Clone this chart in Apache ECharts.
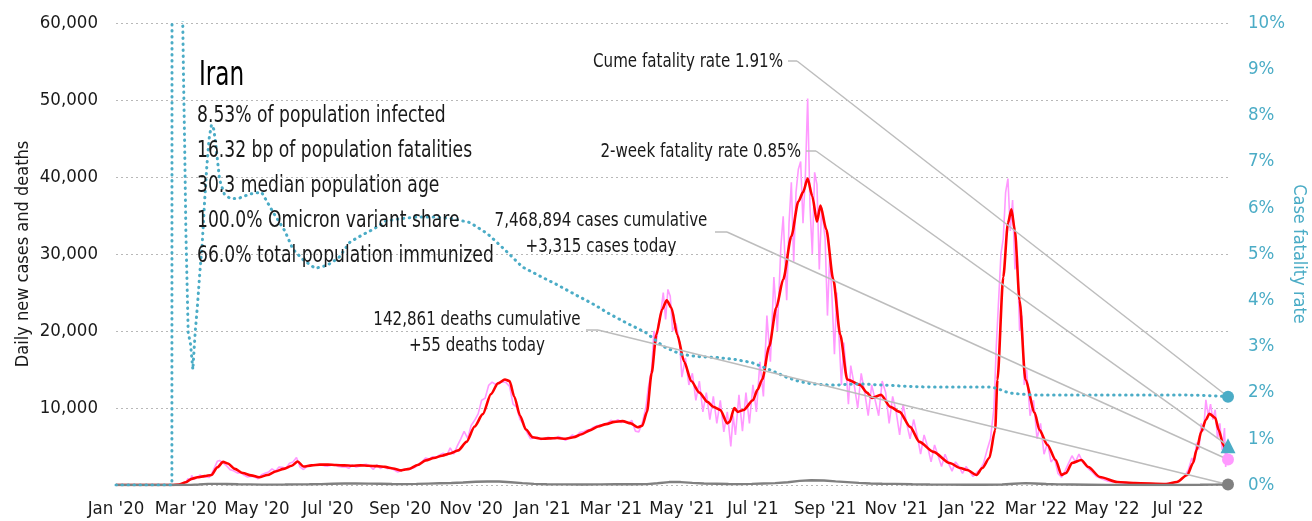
<!DOCTYPE html>
<html>
<head>
<meta charset="utf-8">
<script src="https://cdn.jsdelivr.net/npm/echarts@6/dist/echarts.min.js"></script>
<style>
  html, body { margin: 0; padding: 0; background: #ffffff; }
  #chart { width: 1312px; height: 521px; }
</style>
</head>
<body>
<div id="chart"></div>
<script>
// Iran COVID-19: daily cases, 7-day average, daily deaths and case fatality rate
const FONT = "'DejaVu Sans Condensed', 'DejaVu Sans', sans-serif";

const startDate = '2020-01-01';
const endDate = '2022-08-13';

const tickDates = ['2020-01-01','2020-03-01','2020-05-01','2020-07-01','2020-09-01','2020-11-01',
  '2021-01-01','2021-03-01','2021-05-01','2021-07-01','2021-09-01','2021-11-01',
  '2022-01-01','2022-03-01','2022-05-01','2022-07-01'];
const tickLabels = ["Jan '20","Mar '20","May '20","Jul '20","Sep '20","Nov '20",
  "Jan '21","Mar '21","May '21","Jul '21","Sep '21","Nov '21",
  "Jan '22","Mar '22","May '22","Jul '22"];

// 7-day average of new cases
const avgDates = ['2020-01-01','2020-02-18','2020-02-24','2020-03-01','2020-03-06','2020-03-11','2020-03-17','2020-03-23','2020-03-28','2020-04-02','2020-04-06','2020-04-12','2020-04-19','2020-04-26','2020-05-03','2020-05-10','2020-05-17','2020-05-24','2020-05-31','2020-06-05','2020-06-10','2020-06-17','2020-06-24','2020-07-01','2020-07-08','2020-07-15','2020-07-22','2020-07-29','2020-08-05','2020-08-12','2020-08-19','2020-08-26','2020-09-02','2020-09-09','2020-09-16','2020-09-23','2020-09-30','2020-10-07','2020-10-14','2020-10-21','2020-10-28','2020-11-04','2020-11-11','2020-11-18','2020-11-24','2020-11-30','2020-12-04','2020-12-08','2020-12-13','2020-12-18','2020-12-24','2020-12-31',
  '2021-01-07','2021-01-14','2021-01-21','2021-01-28','2021-02-04','2021-02-11','2021-02-18','2021-02-25','2021-03-04','2021-03-11','2021-03-18','2021-03-24','2021-03-28','2021-04-01','2021-04-05','2021-04-09','2021-04-14','2021-04-18','2021-04-22','2021-04-27','2021-05-03','2021-05-09','2021-05-16','2021-05-23','2021-05-28','2021-06-03','2021-06-09','2021-06-11','2021-06-15','2021-06-18','2021-06-23','2021-07-01','2021-07-05','2021-07-09','2021-07-15','2021-07-21','2021-07-27','2021-08-03','2021-08-09','2021-08-13','2021-08-17','2021-08-21','2021-08-25','2021-08-28','2021-09-02','2021-09-08','2021-09-14','2021-09-20','2021-10-01','2021-10-07','2021-10-11','2021-10-19','2021-10-27','2021-11-04','2021-11-13','2021-11-21','2021-12-03','2021-12-17','2021-12-26',
  '2022-01-01','2022-01-09','2022-01-14','2022-01-20','2022-01-25','2022-01-27','2022-02-01','2022-02-05','2022-02-08','2022-02-11','2022-02-15','2022-02-20','2022-02-28','2022-03-04','2022-03-11','2022-03-18','2022-03-23','2022-03-27','2022-04-01','2022-04-09','2022-04-15','2022-04-25','2022-05-10','2022-05-25','2022-06-21','2022-06-30','2022-07-09','2022-07-14','2022-07-17','2022-07-21','2022-07-25','2022-07-28','2022-08-02','2022-08-05','2022-08-09','2022-08-11','2022-08-13'];
const avgCases = [0,0,50,350,800,1000,1150,1300,2300,3000,2800,2100,1550,1250,1000,1300,1750,2100,2500,3050,2400,2550,2650,2650,2600,2550,2500,2550,2500,2450,2350,2150,1900,2100,2600,3200,3500,3800,4100,4500,5600,7600,9200,11800,13200,13700,13500,11500,9000,7200,6200,6000,
  6050,6100,6000,6200,6600,7100,7600,7900,8200,8300,8000,7500,7700,9500,14500,19500,22800,24000,23000,19500,16000,13500,12000,10800,10150,9750,8000,8200,10000,9500,9750,11000,12400,13700,18000,23000,26700,32300,36800,38000,39800,37500,34200,36300,33200,26700,19500,13700,13000,12000,11300,11700,10150,9500,7550,5600,4300,2860,2200,
  1950,1300,2200,3500,7160,13670,27000,34000,35800,33000,24000,13670,9375,7160,5200,3250,1300,1560,2860,3250,2340,1040,390,260,130,390,1300,2860,4560,6900,8460,9250,8720,7160,5200,4700,4950];

// Reported new cases
const dailyDates = ['2020-01-01','2020-02-18','2020-02-21','2020-02-24','2020-02-27','2020-03-01','2020-03-03','2020-03-05','2020-03-06','2020-03-08','2020-03-10','2020-03-13','2020-03-16','2020-03-19','2020-03-21','2020-03-23','2020-03-26','2020-03-28','2020-03-30','2020-04-02','2020-04-05','2020-04-08','2020-04-11','2020-04-14','2020-04-17','2020-04-20','2020-04-23','2020-04-26','2020-04-29','2020-05-02','2020-05-05','2020-05-08','2020-05-11','2020-05-14','2020-05-17','2020-05-20','2020-05-23','2020-05-26','2020-05-29','2020-06-01','2020-06-04','2020-06-07','2020-06-10','2020-06-13','2020-06-16','2020-06-19','2020-06-22','2020-06-25','2020-06-28','2020-07-01','2020-07-04','2020-07-07','2020-07-10','2020-07-13','2020-07-16','2020-07-19','2020-07-22','2020-07-25','2020-07-28','2020-07-31','2020-08-03','2020-08-06','2020-08-09','2020-08-12','2020-08-15','2020-08-18','2020-08-21','2020-08-24','2020-08-27','2020-08-30','2020-09-02','2020-09-05','2020-09-08','2020-09-11','2020-09-14','2020-09-17','2020-09-20','2020-09-23','2020-09-26','2020-09-29','2020-10-02','2020-10-05','2020-10-08','2020-10-11','2020-10-14','2020-10-17','2020-10-20','2020-10-23','2020-10-26','2020-10-29','2020-11-01','2020-11-04','2020-11-07','2020-11-10','2020-11-13','2020-11-16','2020-11-19','2020-11-22','2020-11-25','2020-11-28','2020-12-01','2020-12-04','2020-12-07','2020-12-10','2020-12-13','2020-12-16','2020-12-19','2020-12-22','2020-12-25','2020-12-28','2020-12-31',
  '2021-01-03','2021-01-06','2021-01-09','2021-01-12','2021-01-15','2021-01-18','2021-01-21','2021-01-24','2021-01-27','2021-01-30','2021-02-02','2021-02-05','2021-02-08','2021-02-11','2021-02-14','2021-02-17','2021-02-20','2021-02-23','2021-02-26','2021-03-01','2021-03-04','2021-03-07','2021-03-10','2021-03-13','2021-03-16','2021-03-19','2021-03-22','2021-03-25','2021-03-28','2021-03-31','2021-04-02','2021-04-05','2021-04-07','2021-04-09','2021-04-11','2021-04-13','2021-04-15','2021-04-17','2021-04-19','2021-04-21','2021-04-23','2021-04-26','2021-04-29','2021-05-01','2021-05-04','2021-05-07','2021-05-10','2021-05-13','2021-05-16','2021-05-19','2021-05-22','2021-05-25','2021-05-28','2021-05-31','2021-06-03','2021-06-06','2021-06-09','2021-06-12','2021-06-14','2021-06-16','2021-06-19','2021-06-22','2021-06-25','2021-06-28','2021-07-01','2021-07-04','2021-07-07','2021-07-10','2021-07-13','2021-07-16','2021-07-19','2021-07-22','2021-07-25','2021-07-27','2021-07-30','2021-08-01','2021-08-03','2021-08-05','2021-08-07','2021-08-09','2021-08-11','2021-08-13','2021-08-15','2021-08-17','2021-08-19','2021-08-21','2021-08-23','2021-08-25','2021-08-27','2021-08-29','2021-09-01','2021-09-03','2021-09-05','2021-09-07','2021-09-09','2021-09-11','2021-09-13','2021-09-15','2021-09-17','2021-09-19','2021-09-21','2021-09-23','2021-09-26','2021-09-29','2021-10-02','2021-10-05','2021-10-08','2021-10-11','2021-10-14','2021-10-17','2021-10-20','2021-10-23','2021-10-26','2021-10-29','2021-11-01','2021-11-04','2021-11-07','2021-11-10','2021-11-13','2021-11-16','2021-11-19','2021-11-22','2021-11-25','2021-11-28','2021-12-01','2021-12-04','2021-12-07','2021-12-10','2021-12-13','2021-12-16','2021-12-19','2021-12-22','2021-12-25','2021-12-28','2021-12-31',
  '2022-01-03','2022-01-06','2022-01-09','2022-01-12','2022-01-15','2022-01-18','2022-01-21','2022-01-24','2022-01-26','2022-01-28','2022-01-30','2022-02-01','2022-02-03','2022-02-05','2022-02-07','2022-02-09','2022-02-11','2022-02-13','2022-02-15','2022-02-17','2022-02-19','2022-02-21','2022-02-24','2022-02-27','2022-03-02','2022-03-05','2022-03-08','2022-03-11','2022-03-14','2022-03-17','2022-03-20','2022-03-23','2022-03-26','2022-03-29','2022-04-01','2022-04-04','2022-04-07','2022-04-10','2022-04-13','2022-04-16','2022-04-19','2022-04-22','2022-04-25','2022-04-28','2022-05-02','2022-05-06','2022-05-10','2022-05-15','2022-05-20','2022-05-30','2022-06-10','2022-06-20','2022-06-28','2022-07-03','2022-07-07','2022-07-10','2022-07-13','2022-07-15','2022-07-17','2022-07-19','2022-07-21','2022-07-23','2022-07-25','2022-07-27','2022-07-29','2022-07-31','2022-08-02','2022-08-04','2022-08-06','2022-08-08','2022-08-10','2022-08-11','2022-08-12','2022-08-13'];
const dailyCases = [0,0,20,40,110,385,835,591,1234,743,881,1289,1053,1046,966,1411,2389,3076,3186,2875,2483,1997,1837,1574,1606,1294,1030,1134,1073,802,1323,1529,1683,2102,1806,2346,2311,2180,2819,2979,3574,2364,2011,2410,2612,2615,2573,2595,2489,2457,2560,2637,2397,2349,2379,2166,2625,2316,2434,2621,2685,2450,2020,2634,2133,2385,2125,2206,1952,1682,1889,2063,2075,2137,2313,2720,3049,3521,3362,3677,3582,3902,4142,3822,4830,4005,5039,5960,6968,6046,7719,8405,9236,11000,11269,12931,13352,13053,13321,13402,13300,12800,10500,10100,8500,7900,6800,6000,6100,6200,5900,
  6000,6200,6100,6000,6300,6100,5800,6100,6500,6200,6800,6900,7100,7200,7500,7700,7800,7900,8000,8400,8200,8500,8100,8300,8000,8400,7000,6900,8100,10000,12500,15000,20000,18500,21000,22500,25000,21500,25400,24500,20000,21000,18500,14000,16500,13000,14500,11000,13500,9500,12000,8500,11500,8000,11000,6900,9500,5000,9000,6500,11700,7000,12000,8000,13000,9500,16000,11500,22000,16000,27000,20000,31000,34900,24000,34000,39300,29000,38000,41000,42000,34000,40000,50200,36200,30000,40600,39000,28000,36000,32000,22000,30000,24000,17000,25000,19000,13000,18500,15000,10500,15500,13000,10000,14500,12000,9000,13000,11000,9000,13500,12000,8000,11500,9500,6500,10500,8000,6000,8500,6500,4000,6500,5000,3000,5200,3800,2400,4000,2800,1800,3000,2400,1500,2400,
  1800,1100,1600,2000,2800,4500,6000,10000,18000,24000,30000,32000,38000,39800,33000,37000,28000,30000,20000,22000,13000,15000,9000,11000,6000,8000,4000,5500,3000,3500,1500,1000,1800,2800,3800,3000,4000,3000,2500,2000,1600,1100,900,700,500,400,350,250,250,200,150,150,300,600,1200,2000,3500,3000,5500,4600,8000,7000,11070,9000,10500,8500,9770,6000,8000,4560,7400,2340,4200,3315];

// Reported deaths
const deathDates = ['2020-01-01','2020-02-18','2020-02-25','2020-03-05','2020-03-12','2020-03-20','2020-03-28','2020-04-05','2020-04-15','2020-04-25','2020-05-05','2020-05-15','2020-05-25','2020-06-05','2020-06-15','2020-06-25','2020-07-05','2020-07-15','2020-07-25','2020-08-05','2020-08-15','2020-08-25','2020-09-05','2020-09-15','2020-09-25','2020-10-05','2020-10-15','2020-10-25','2020-11-05','2020-11-15','2020-11-25','2020-12-05','2020-12-15','2020-12-25',
  '2021-01-05','2021-01-20','2021-02-05','2021-02-20','2021-03-05','2021-03-20','2021-04-01','2021-04-10','2021-04-20','2021-04-30','2021-05-10','2021-05-20','2021-05-31','2021-06-10','2021-06-20','2021-06-30','2021-07-10','2021-07-20','2021-07-31','2021-08-10','2021-08-20','2021-08-31','2021-09-10','2021-09-20','2021-09-30','2021-10-10','2021-10-20','2021-10-31','2021-11-15','2021-11-30','2021-12-15','2021-12-31',
  '2022-01-15','2022-01-31','2022-02-10','2022-02-20','2022-02-28','2022-03-10','2022-03-20','2022-04-01','2022-04-15','2022-05-01','2022-05-15','2022-06-01','2022-06-20','2022-07-05','2022-07-20','2022-08-01','2022-08-10','2022-08-13'];
const dailyDeaths = [0,0,5,20,60,140,140,135,100,80,55,50,60,75,90,120,170,200,200,180,160,130,120,140,180,220,260,330,420,460,460,360,250,150,
  100,80,70,80,90,90,120,220,380,380,280,200,170,130,120,140,200,250,350,530,620,580,470,380,270,200,160,140,100,70,50,35,
  25,60,170,240,200,130,80,60,40,20,12,8,5,8,25,55,60,55];

// Cumulative case fatality rate, %
const cfrDates = ['2020-01-01','2020-02-18','2020-02-19','2020-02-20','2020-02-22','2020-02-24','2020-02-26','2020-02-27','2020-02-28','2020-02-29','2020-03-01','2020-03-03','2020-03-05','2020-03-07','2020-03-09','2020-03-11','2020-03-13','2020-03-15','2020-03-17','2020-03-19','2020-03-21','2020-03-23','2020-03-25','2020-03-27','2020-03-30','2020-04-03','2020-04-08','2020-04-15','2020-04-25','2020-05-05','2020-05-15','2020-05-25','2020-06-01','2020-06-10','2020-06-20','2020-06-30','2020-07-10','2020-07-20','2020-07-31','2020-08-10','2020-08-20','2020-08-31','2020-09-15','2020-09-30','2020-10-15','2020-10-31','2020-11-15','2020-11-30','2020-12-15','2020-12-31',
  '2021-01-15','2021-01-31','2021-02-15','2021-02-28','2021-03-15','2021-03-31','2021-04-15','2021-04-30','2021-05-15','2021-05-31','2021-06-15','2021-06-30','2021-07-15','2021-07-31','2021-08-10','2021-08-20','2021-08-31','2021-09-10','2021-09-20','2021-09-30','2021-10-15','2021-10-31','2021-11-15','2021-11-30','2021-12-31',
  '2022-01-20','2022-01-25','2022-01-31','2022-02-05','2022-02-10','2022-02-20','2022-02-28','2022-03-15','2022-04-01','2022-05-01','2022-06-01','2022-07-01','2022-07-20','2022-08-01','2022-08-13'];
const cfrPct = [0,0,100,40,18,19.7,13.7,10.6,8.8,7.3,5.5,3.3,3.05,2.5,3.3,3.9,4.6,5.2,6.1,6.9,7.5,7.8,7.7,7.3,6.6,6.3,6.2,6.2,6.3,6.34,5.9,5.5,5.1,4.87,4.69,4.75,4.91,5.26,5.42,5.55,5.72,5.76,5.8,5.8,5.77,5.68,5.44,5.09,4.72,4.51,
  4.32,4.1,3.9,3.7,3.5,3.3,3.0,2.83,2.78,2.76,2.72,2.65,2.5,2.32,2.24,2.19,2.17,2.16,2.18,2.19,2.17,2.15,2.13,2.12,2.12,
  2.12,2.1,2.05,2.0,1.98,1.96,1.95,1.95,1.95,1.95,1.95,1.95,1.94,1.93,1.91];

const countryName = 'Iran';
const statLines = ['8.53% of population infected','16.32 bp of population fatalities','30.3 median population age',
  '100.0% Omicron variant share','66.0% total population immunized'];

const cumeFatalityRate = 1.91;
const twoWeekFatalityRate = 0.85;
const casesCumulative = 7468894;
const casesToday = 3315;
const deathsCumulative = 142861;
const deathsToday = 55;

const DAY = 86400000;
function dayIndex(s) {
  const p = s.split('-').map(Number);
  return (Date.UTC(p[0], p[1] - 1, p[2]) - Date.UTC(2020, 0, 1)) / DAY;
}
function pairs(dates, vals) { return dates.map((d, i) => [dayIndex(d), vals[i]]); }
const fmt = n => n.toLocaleString('en-US');

const lastDay = dayIndex(endDate);
const tickDays = tickDates.map(dayIndex);

const TEAL = '#4bacc6';
const PINK = '#ff99ff';
const RED = '#ff0000';
const GREY = '#808080';
const LEADER = '#bdbdbd';
const INK = '#1a1a1a';

function leader(points, end) {
  const segs = [];
  for (let i = 0; i < points.length - 1; i++) {
    segs.push([{ x: points[i][0], y: points[i][1] }, { x: points[i + 1][0], y: points[i + 1][1] }]);
  }
  const p = points[points.length - 1];
  segs.push([{ x: p[0], y: p[1] }, { coord: end }]);
  return {
    symbol: 'none', silent: true, animation: false,
    label: { show: false },
    lineStyle: { color: LEADER, width: 1.5, type: 'solid' },
    emphasis: { disabled: true },
    data: segs
  };
}

function marker(name, yAxisIndex, value, symbol, size, color, leaderPts) {
  return {
    name, type: 'scatter', xAxisIndex: 0, yAxisIndex,
    data: [[lastDay, value]], symbol, symbolSize: size,
    itemStyle: { color, opacity: 1 }, clip: false, z: 10, silent: true,
    markLine: leader(leaderPts, [lastDay, value])
  };
}

// condensed text: horizontal squeeze keeps glyph height while matching the narrow face
const txt = (x, y, text, size, align, squeeze, fill) => ({
  type: 'text', x, y, scaleX: squeeze, silent: true, z: 20,
  style: { text, fill: fill || INK, font: size + 'px ' + FONT, align, verticalAlign: 'middle' }
});

const chart = echarts.init(document.getElementById('chart'), null, { renderer: 'canvas' });

chart.setOption({
  animation: false,
  backgroundColor: '#ffffff',
  textStyle: { fontFamily: FONT },
  grid: { left: 116, right: 84, top: 23, bottom: 36, containLabel: false, outerBoundsMode: 'none' },
  xAxis: {
    type: 'value', min: 0, max: lastDay,
    axisLine: { show: false }, axisTick: { show: false }, splitLine: { show: false },
    axisLabel: {
      customValues: tickDays, margin: 15, color: INK, fontSize: 18.5, fontFamily: FONT,
      formatter: v => tickLabels[tickDays.indexOf(v)] || ''
    }
  },
  yAxis: [
    {
      type: 'value', min: 0, max: 60000, interval: 10000, position: 'left',
      name: 'Daily new cases and deaths', nameLocation: 'middle', nameGap: 84, nameRotate: 90,
      nameMoveOverlap: false,
      nameTextStyle: { color: INK, fontSize: 18, fontFamily: FONT },
      axisLine: { show: false }, axisTick: { show: false },
      axisLabel: { color: INK, fontSize: 18.5, fontFamily: FONT, margin: 18, showMinLabel: false, formatter: v => v === 0 ? '' : fmt(v) },
      splitLine: { show: true, lineStyle: { color: '#b8b8b8', width: 1, type: [2, 3] } }
    },
    {
      type: 'value', min: 0, max: 10, interval: 1, position: 'right',
      name: 'Case fatality rate', nameLocation: 'middle', nameGap: 62, nameRotate: -90,
      nameMoveOverlap: false,
      nameTextStyle: { color: TEAL, fontSize: 18, fontFamily: FONT },
      axisLine: { show: false }, axisTick: { show: false }, splitLine: { show: false },
      axisLabel: { color: TEAL, fontSize: 18.5, fontFamily: FONT, margin: 20, formatter: '{value}%' }
    }
  ],
  series: [
    {
      name: 'New cases', type: 'line', yAxisIndex: 0, data: pairs(dailyDates, dailyCases),
      showSymbol: false, symbol: 'none', lineStyle: { color: PINK, width: 1.6 }, z: 1, silent: true
    },
    {
      name: '7-day average', type: 'line', yAxisIndex: 0, data: pairs(avgDates, avgCases),
      showSymbol: false, symbol: 'none', smooth: 0.25, smoothMonotone: 'x',
      lineStyle: { color: RED, width: 2.6 }, z: 2, silent: true
    },
    {
      name: 'Deaths', type: 'line', yAxisIndex: 0, data: pairs(deathDates, dailyDeaths),
      showSymbol: false, symbol: 'none', lineStyle: { color: GREY, width: 2.4 }, z: 3, silent: true
    },
    {
      name: 'Case fatality rate', type: 'line', yAxisIndex: 1, data: pairs(cfrDates, cfrPct),
      showSymbol: false, symbol: 'none', clip: true,
      lineStyle: { color: TEAL, width: 3, type: [0.5, 5.5], cap: 'round' }, z: 4, silent: true
    },
    marker('Cume fatality rate', 1, cumeFatalityRate, 'circle', 12, TEAL, [[788, 61], [797, 61]]),
    marker('2-week fatality rate', 1, twoWeekFatalityRate, 'triangle', 15, TEAL, [[806, 151], [816, 151]]),
    marker('Cases today', 0, casesToday, 'circle', 12, PINK, [[715, 232], [727, 232]]),
    marker('Deaths today', 0, deathsToday, 'circle', 12, GREY, [[586, 330], [598, 330]])
  ],
  graphic: [
    txt(199, 76, countryName, 33, 'left', 0.78, '#000000'),
    ...statLines.map((s, i) => txt(197, 116 + 35 * i, s, 23, 'left', 0.83)),
    txt(783, 62, 'Cume fatality rate ' + cumeFatalityRate.toFixed(2) + '%', 19.5, 'right', 0.86),
    txt(801, 152, '2-week fatality rate ' + twoWeekFatalityRate.toFixed(2) + '%', 19.5, 'right', 0.86),
    txt(601, 221, fmt(casesCumulative) + ' cases cumulative', 19.5, 'center', 0.86),
    txt(601, 247, '+' + fmt(casesToday) + ' cases today', 19.5, 'center', 0.86),
    txt(477, 320, fmt(deathsCumulative) + ' deaths cumulative', 19.5, 'center', 0.86),
    txt(477, 346, '+' + fmt(deathsToday) + ' deaths today', 19.5, 'center', 0.86)
  ]
});
</script>
</body>
</html>
